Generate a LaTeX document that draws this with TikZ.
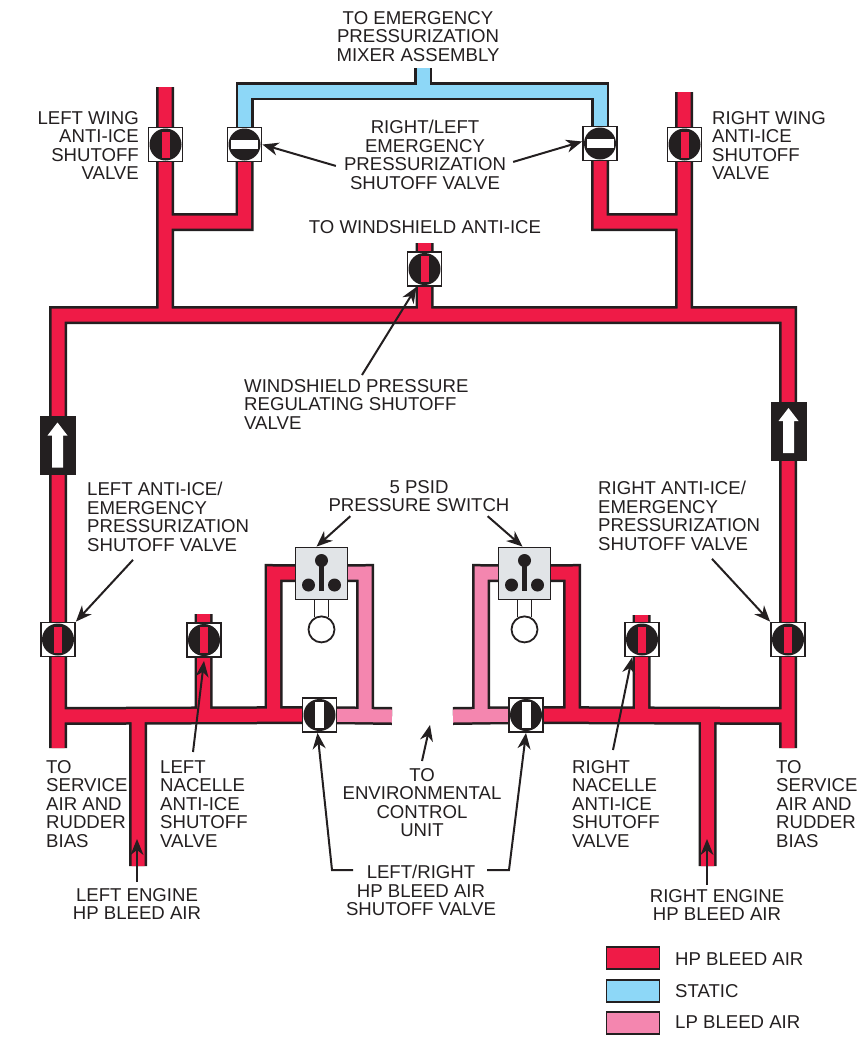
\documentclass[tikz,border=0pt]{standalone}
\usepackage{fontspec}
\setmainfont{Liberation Sans}
\usepackage{xcolor}
\usepackage{tikz}
\usetikzlibrary{arrows.meta,backgrounds}

\definecolor{hpred}{HTML}{EF1B47}
\definecolor{lppink}{HTML}{F486AF}
\definecolor{staticblue}{HTML}{8DD7F7}
\definecolor{inkblack}{HTML}{231F20}
\definecolor{switchgrey}{HTML}{E1E4E7}

\tikzset{
    pipeback/.style={line width=18pt, draw=inkblack},
    hppipe/.style={line width=13pt, draw=hpred},
    lppipe/.style={line width=13pt, draw=lppink},
    staticpipe/.style={line width=13pt, draw=staticblue},
    valvebox/.style={rectangle, draw=inkblack, fill=white, line width=1.8pt, inner sep=0pt, minimum size=34pt},
    switchbox/.style={rectangle, draw=inkblack, fill=switchgrey, line width=1.8pt, inner sep=0pt, minimum size=52pt},
    checkbox/.style={rectangle, fill=inkblack, inner sep=0pt, minimum width=36pt, minimum height=59pt},
    legendbox/.style={rectangle, draw=inkblack, line width=1.6pt, inner sep=0pt, minimum width=53pt, minimum height=22pt},
    lbl/.style={inner sep=0pt, text=inkblack, font=\fontsize{18.6}{18.6}\selectfont},
    callout/.style={-{Stealth[length=16pt,width=13pt,inset=5pt]}, line width=2pt, draw=inkblack}
}

\newcommand{\hppaths}{
    (svcl) -- (busnw) -- (busne) -- (svcr)
    (lwingtop) -- (lwingtop |- busnw)
    (rwingtop) -- (rwingtop |- busne)
    (lwingtie) -| (vlemerg.center)
    (rwingtie) -| (vremerg.center)
    (vwind.center) ++(0,-26) -- (vwind |- busnw)
    (svcl |- lowbus) -- (vhpl.center)
    (vhpr.center) -- (svcr |- lowbus)
    (lnacelletop) -- (lnacelletop |- lowbus)
    (rnacelletop) -- (rnacelletop |- lowbus)
    (lengine) -- (lengine |- lowbus)
    (rengine) -- (rengine |- lowbus)
    (lowbus -| lhploop) -- (lhploop) -- (lsw.center)
    (lowbus -| rhploop) -- (rhploop) -- (rsw.center)
}
\newcommand{\lppaths}{
    (vhpl.center) -- (lvent)
    (vhpr.center) -- (rvent)
    (lowbus -| llploop) -- (llploop) -- (lsw.center)
    (lowbus -| rlploop) -- (rlploop) -- (rsw.center)
}
\newcommand{\staticpaths}{
    (vlemerg.center) |- (statictop) -| (vremerg.center)
    (statictop) -- (staticstem)
}

\begin{document}
\begin{tikzpicture}[x=1pt, y=-1pt]
    \useasboundingbox (0,0) rectangle (863,1037);

    % pipe routing points
    \coordinate (busnw) at (58,315);
    \coordinate (busne) at (788,315);
    \coordinate (svcl) at (58,748);
    \coordinate (svcr) at (788,748);
    \coordinate (lowbus) at (423,716);
    \coordinate (lvent) at (392,716);
    \coordinate (rvent) at (453,716);
    \coordinate (lwingtop) at (165,87);
    \coordinate (rwingtop) at (684,92);
    \coordinate (lwingtie) at (165,222);
    \coordinate (rwingtie) at (684,222);
    \coordinate (statictop) at (423,91);
    \coordinate (staticstem) at (423,68);
    \coordinate (lnacelletop) at (203.5,614);
    \coordinate (rnacelletop) at (641.5,615);
    \coordinate (lengine) at (138,866);
    \coordinate (rengine) at (707.5,866);
    \coordinate (lhploop) at (273.5,573);
    \coordinate (llploop) at (365,573);
    \coordinate (rlploop) at (481,573);
    \coordinate (rhploop) at (572,573);

    % valves with a red slot
    \foreach \vname/\vx/\vy in {vlwing/165.5/144.5, vrwing/684.5/144.5, vwind/424.5/269, vlai/58/639.5, vrai/788/639.5, vnl/204/640, vnr/642/639.5} {
        \node[valvebox] (\vname) at (\vx,\vy) {};
        \fill[inkblack] (\vname.center) circle (16);
        \fill[hpred] ([shift={(-4,-13)}]\vname.center) rectangle ([shift={(4,13)}]\vname.center);
    }
    % closed valves
    \foreach \vname/\vx/\vy in {vlemerg/244.5/144.5, vremerg/600/143.5} {
        \node[valvebox] (\vname) at (\vx,\vy) {};
        \fill[inkblack] (\vname.center) circle (16);
        \fill[white] ([shift={(-13.5,-4.5)}]\vname.center) rectangle ([shift={(13.5,4.5)}]\vname.center);
    }
    % HP bleed valves
    \foreach \vname/\vx/\vy in {vhpl/319.5/715, vhpr/526/715} {
        \node[valvebox] (\vname) at (\vx,\vy) {};
        \fill[inkblack] (\vname.center) circle (16);
        \fill[white] ([shift={(-4.5,-13)}]\vname.center) rectangle ([shift={(4.5,13)}]\vname.center);
    }

    % check valves
    \foreach \vname/\vx/\vy in {vcl/57.5/445.5, vcr/788.5/431} {
        \node[checkbox] (\vname) at (\vx,\vy) {};
        \fill[white] ([shift={(0,-23)}]\vname.center) -- ++(10,13) -- ++(-4.5,0) -- ++(0,32) -- ++(-11,0) -- ++(0,-32) -- ++(-4.5,0) -- cycle;
    }

    % pressure switches
    \foreach \sname/\sx/\sy in {lsw/321.5/573.5, rsw/524.5/573.5} {
        \node[switchbox] (\sname) at (\sx,\sy) {};
        \fill[inkblack] ([shift={(0,-13)}]\sname.center) circle (6.5);
        \fill[inkblack] ([shift={(-13,11.5)}]\sname.center) circle (6.5);
        \fill[inkblack] ([shift={(13,11.5)}]\sname.center) circle (6.5);
        \fill[inkblack] ([shift={(-2.5,-13)}]\sname.center) rectangle ([shift={(2.5,17)}]\sname.center);
        \draw[inkblack, line width=1.8pt] ([xshift=-7pt]\sname.south) -- ++(0,17) ([xshift=7pt]\sname.south) -- ++(0,17);
        \draw[inkblack, line width=1.8pt, fill=white] ([yshift=-29pt]\sname.south) circle (13);
    }

    \begin{scope}[on background layer]
        \draw[pipeback] \hppaths;
        \draw[pipeback] \lppaths;
        \draw[pipeback] \staticpaths;
        \draw[staticpipe] \staticpaths;
        \draw[lppipe] \lppaths;
        \draw[hppipe] \hppaths;
    \end{scope}

    % labels
    \node[lbl, align=center, anchor=north] (lblmixer) at (418,11) {TO EMERGENCY\\PRESSURIZATION\\MIXER ASSEMBLY};
    \node[lbl, align=right, anchor=north east] (lbllwing) at (139,111) {LEFT WING\\ANTI-ICE\\SHUTOFF\\VALVE};
    \node[lbl, align=left, anchor=north west] (lblrwing) at (712,111) {RIGHT WING\\ANTI-ICE\\SHUTOFF\\VALVE};
    \node[lbl, align=center, anchor=north] (lblemerg) at (425,120) {RIGHT/LEFT\\EMERGENCY\\PRESSURIZATION\\SHUTOFF VALVE};
    \node[lbl, align=center, anchor=north] (lblwind) at (425,220) {TO WINDSHIELD ANTI-ICE};
    \node[lbl, align=left, anchor=north west] (lblwprs) at (244,379) {WINDSHIELD PRESSURE\\REGULATING SHUTOFF\\VALVE};
    \node[lbl, align=left, anchor=north west] (lbllai) at (87,482) {LEFT ANTI-ICE/\\EMERGENCY\\PRESSURIZATION\\SHUTOFF VALVE};
    \node[lbl, align=left, anchor=north west] (lblrai) at (598,481) {RIGHT ANTI-ICE/\\EMERGENCY\\PRESSURIZATION\\SHUTOFF VALVE};
    \node[lbl, align=center, anchor=north] (lblpsid) at (419,480) {5 PSID\\PRESSURE SWITCH};
    \node[lbl, align=left, anchor=north west] (lblsvcl) at (46,760) {TO\\SERVICE\\AIR AND\\RUDDER\\BIAS};
    \node[lbl, align=left, anchor=north west] (lblsvcr) at (776,760) {TO\\SERVICE\\AIR AND\\RUDDER\\BIAS};
    \node[lbl, align=left, anchor=north west] (lblnl) at (160,760) {LEFT\\NACELLE\\ANTI-ICE\\SHUTOFF\\VALVE};
    \node[lbl, align=left, anchor=north west] (lblnr) at (572,760) {RIGHT\\NACELLE\\ANTI-ICE\\SHUTOFF\\VALVE};
    \node[lbl, align=center, anchor=north] (lblecu) at (422,768) {TO\\ENVIRONMENTAL\\CONTROL\\UNIT};
    \node[lbl, align=center, anchor=north] (lblhp) at (421,865) {LEFT/RIGHT\\HP BLEED AIR\\SHUTOFF VALVE};
    \node[lbl, align=center, anchor=north] (lblel) at (137,888) {LEFT ENGINE\\HP BLEED AIR};
    \node[lbl, align=center, anchor=north] (lbler) at (717,889) {RIGHT ENGINE\\HP BLEED AIR};

    % legend
    \node[legendbox, fill=hpred] (keyhp) at (633,958) {};
    \node[legendbox, fill=staticblue] (keystatic) at (633,991) {};
    \node[legendbox, fill=lppink] (keylp) at (633,1023) {};
    \node[lbl, anchor=west] (lblkeyhp) at (675,959) {HP BLEED AIR};
    \node[lbl, anchor=west] (lblkeystatic) at (675,991) {STATIC};
    \node[lbl, anchor=west] (lblkeylp) at (675,1022) {LP BLEED AIR};

    % callouts
    \coordinate (hpltail) at (353,870);
    \coordinate (hprtail) at (487,870);
    \coordinate (ventend) at (430,725);
    \draw[callout] ([shift={(-8,11)}]lblemerg.west) -- (vlemerg.east);
    \draw[callout] ([shift={(7,7)}]lblemerg.east) -- ([yshift=2pt]vremerg.west);
    \draw[callout] ([shift={(118,-4)}]lblwprs.north west) -- ([xshift=-8pt]vwind.south);
    \draw[callout] ([shift={(46,8)}]lbllai.south west) -- (vlai.north east);
    \draw[callout] ([shift={(114,8)}]lblrai.south west) -- (vrai.north west);
    \draw[callout] ([shift={(22,4)}]lblpsid.south west) -- ([xshift=-5pt]lsw.north);
    \draw[callout] ([shift={(-22,4)}]lblpsid.south east) -- ([xshift=-2pt]rsw.north);
    \draw[callout] ([shift={(33,-8)}]lblnl.north west) -- ([yshift=-3pt]vnl.south);
    \draw[callout] ([shift={(41,-10)}]lblnr.north west) -- ([xshift=-10pt]vnr.south);
    \draw[callout] ([yshift=7pt]lblecu.north) -- (ventend);
    \draw[callout] (hpltail) -- ++(-21,0) -- ([xshift=-2pt]vhpl.south);
    \draw[callout] (hprtail) -- ++(22,0) -- (vhpr.south);
    \draw[callout] ([yshift=6pt]lblel.north) -- ++(0,-43);
    \draw[callout] ([shift={(-10,-4)}]lbler.north) -- ++(0,-46);
\end{tikzpicture}
\end{document}
